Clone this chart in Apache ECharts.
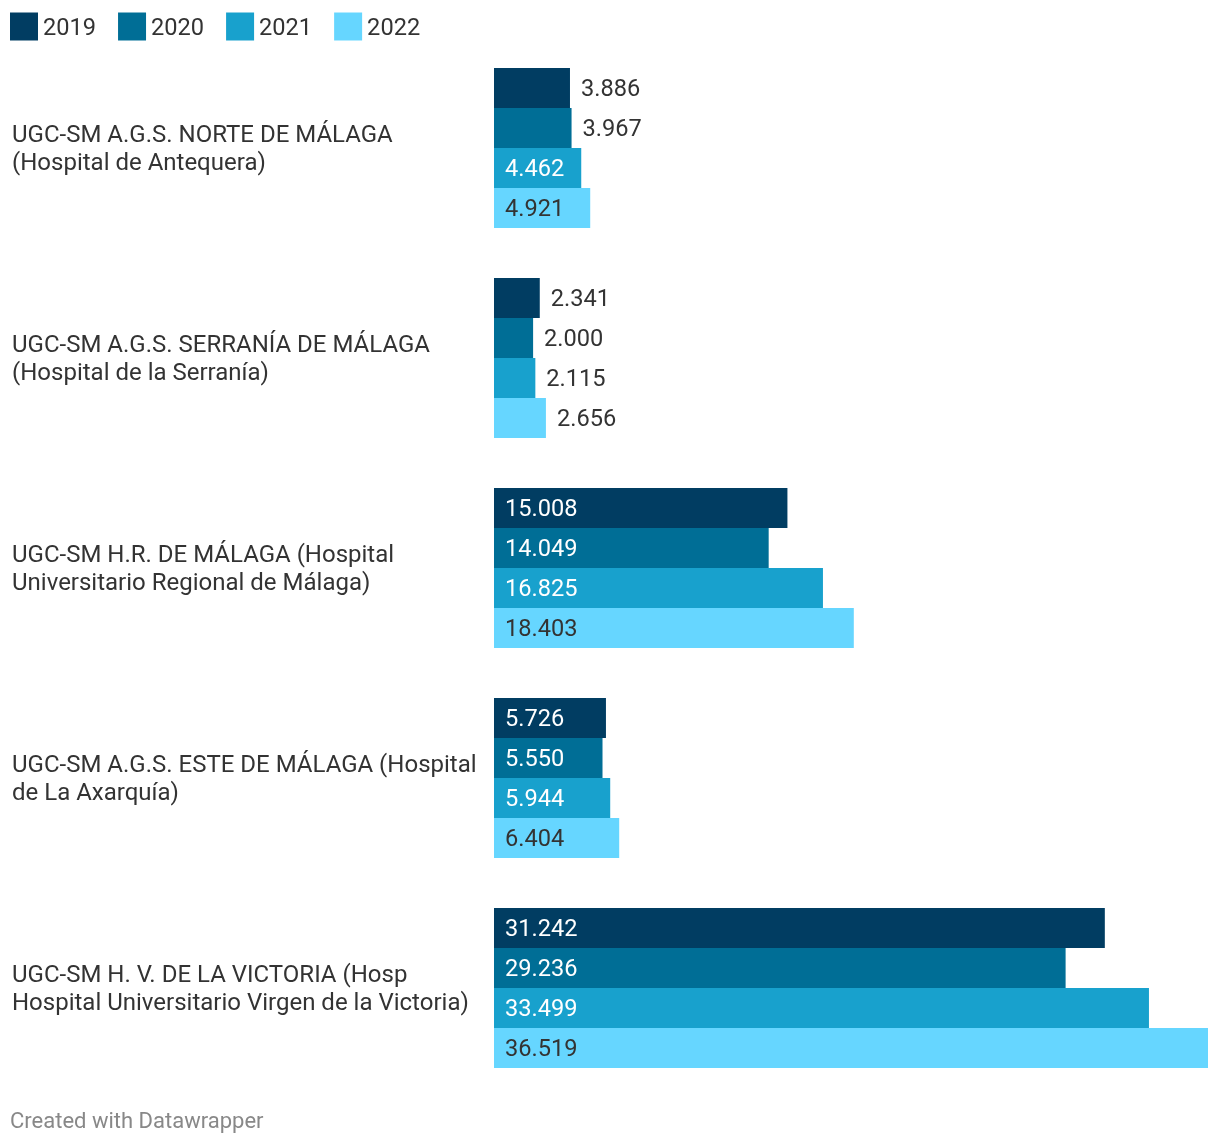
<!DOCTYPE html>
<html><head><meta charset="utf-8">
<script src="https://cdn.jsdelivr.net/npm/echarts@6/dist/echarts.min.js"></script>
<style>html,body{margin:0;padding:0;background:#fff}#c{width:1220px;height:1146px}</style>
</head><body><div id="c"></div>
<script>
const categories = [
  'UGC-SM A.G.S. NORTE DE MÁLAGA\n(Hospital de Antequera)',
  'UGC-SM A.G.S. SERRANÍA DE MÁLAGA\n(Hospital de la Serranía)',
  'UGC-SM H.R. DE MÁLAGA (Hospital\nUniversitario Regional de Málaga)',
  'UGC-SM A.G.S. ESTE DE MÁLAGA (Hospital\nde La Axarquía)',
  'UGC-SM H. V. DE LA VICTORIA (Hosp\nHospital Universitario Virgen de la Victoria)'
];
const years = ['2019', '2020', '2021', '2022'];
const v2019 = [3886, 2341, 15008, 5726, 31242];
const v2020 = [3967, 2000, 14049, 5550, 29236];
const v2021 = [4462, 2115, 16825, 5944, 33499];
const v2022 = [4921, 2656, 18403, 6404, 36519];
const colors = ['#013d62', '#006e96', '#18a1cd', '#66d6ff'];

const FONT = 'Roboto, sans-serif';
const FS = 23.6;
const FSCAT = 24;
const gridLeft = 494, gridWidth = 714;
const maxVal = Math.max(...v2019, ...v2020, ...v2021, ...v2022);
const fmt = v => v.toLocaleString('de-DE');
const ctx = document.createElement('canvas').getContext('2d');
ctx.font = FS + 'px ' + FONT;

const all = [v2019, v2020, v2021, v2022];
const series = all.map((arr, si) => ({
  name: years[si],
  type: 'bar',
  barWidth: 40,
  barGap: 0,
  itemStyle: { color: colors[si] },
  data: arr.map(v => {
    const px = v / maxVal * gridWidth;
    const tw = ctx.measureText(fmt(v)).width;
    const inside = px > tw + 22;
    return {
      value: v,
      label: {
        show: true,
        position: inside ? 'insideLeft' : 'right',
        distance: 11,
        offset: [0, 2],
        color: inside && si < 3 ? '#ffffff' : '#333333',
        fontFamily: FONT, fontSize: FS,
        formatter: p => fmt(p.value)
      }
    };
  })
}));

const chart = echarts.init(document.getElementById('c'), null, { renderer: 'canvas' });
chart.setOption({
  animation: false,
  backgroundColor: '#fff',
  legend: {
    left: 10, top: 12, padding: 0,
    icon: 'rect', itemWidth: 28, itemHeight: 28, itemGap: 22,
    formatter: n => '{s|}\n{a|' + n + '}',
    textStyle: {
      fontFamily: FONT, fontSize: FS, color: '#333',
      rich: {
        s: { lineHeight: 6, fontSize: 1 },
        a: { fontFamily: FONT, fontSize: FS, color: '#333', lineHeight: 28 }
      }
    },
    data: years
  },
  grid: { left: gridLeft, top: 43, width: gridWidth, height: 1050, containLabel: false },
  xAxis: { type: 'value', min: 0, max: maxVal, show: false },
  yAxis: {
    type: 'category', inverse: true, data: categories,
    axisLine: { show: false }, axisTick: { show: false },
    axisLabel: {
      align: 'left', margin: gridLeft - 12,
      fontFamily: FONT, fontSize: FSCAT, color: '#333', lineHeight: 28,
      formatter: v => '{s|}\n' + v.split('\n').map(l => '{a|' + l + '}').join('\n'),
      rich: {
        s: { lineHeight: 4, fontSize: 1 },
        a: { fontFamily: FONT, fontSize: FSCAT, color: '#333', lineHeight: 28 }
      }
    }
  },
  graphic: [{
    type: 'text', left: 10, top: 1111,
    style: { text: 'Created with Datawrapper', fontFamily: FONT, fontSize: 22, fill: '#888' }
  }],
  series
});
</script></body></html>
